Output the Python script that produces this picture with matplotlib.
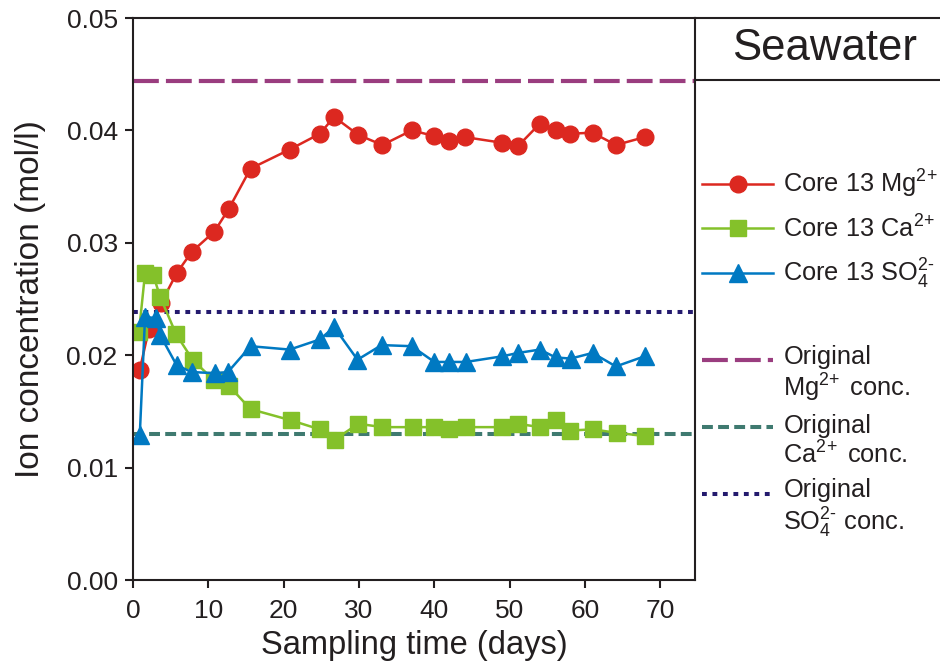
import matplotlib
matplotlib.use("Agg")
from matplotlib import pyplot as plt
from matplotlib.legend_handler import HandlerLine2D

plt.rcParams["font.family"] = ["Liberation Sans", "DejaVu Sans"]
plt.rcParams["mathtext.fontset"] = "custom"
plt.rcParams["mathtext.rm"] = "Liberation Sans"
plt.rcParams["mathtext.it"] = "Liberation Sans:italic"
plt.rcParams["mathtext.bf"] = "Liberation Sans:bold"

# data
days_mg = [0.9, 2.1, 3.7, 5.8, 7.8, 10.8, 12.7, 15.6, 20.8, 24.8, 26.7, 29.9, 33.1,
           37.0, 40.0, 42.0, 44.1, 49.0, 51.1, 54.0, 56.1, 58.0, 61.0, 64.1, 67.9]
mg = [0.0187, 0.0223, 0.0246, 0.0273, 0.0292, 0.0310, 0.0330, 0.0366, 0.0383, 0.0397,
      0.0412, 0.0396, 0.0387, 0.0400, 0.0395, 0.0391, 0.0394, 0.0389, 0.0386, 0.0406,
      0.0400, 0.0397, 0.0398, 0.0387, 0.0394]

days_ca = [0.8, 1.6, 2.7, 3.6, 5.7, 7.9, 10.7, 12.7, 15.6, 21.0, 24.8, 26.8, 29.9,
           33.1, 37.2, 39.9, 42.0, 44.2, 49.0, 51.1, 54.0, 56.2, 58.0, 61.0, 64.2, 68.0]
ca = [0.0221, 0.0273, 0.0271, 0.0252, 0.0219, 0.0196, 0.0178, 0.0173, 0.0152, 0.0142,
      0.0134, 0.0125, 0.0139, 0.0136, 0.0136, 0.0136, 0.0134, 0.0136, 0.0136, 0.0139,
      0.0136, 0.0142, 0.0133, 0.0134, 0.0131, 0.0128]

days_so4 = [0.9, 1.6, 3.1, 3.6, 5.8, 7.8, 10.9, 12.6, 15.6, 20.8, 24.8, 26.7, 29.8,
            33.0, 37.0, 40.0, 42.0, 44.2, 49.0, 51.1, 54.0, 56.1, 58.1, 61.0, 64.1, 67.9]
so4 = [0.0129, 0.0234, 0.0233, 0.0218, 0.0191, 0.0185, 0.0184, 0.0185, 0.0208, 0.0205,
       0.0214, 0.0225, 0.0196, 0.0209, 0.0208, 0.0194, 0.0194, 0.0194, 0.0199, 0.0202,
       0.0205, 0.0198, 0.0197, 0.0202, 0.0190, 0.0199]

# original seawater concentrations
orig_mg = 0.0444
orig_ca = 0.0130
orig_so4 = 0.0238

x_ticks = [0, 10, 20, 30, 40, 50, 60, 70]
y_ticks = [0.00, 0.01, 0.02, 0.03, 0.04, 0.05]


# legend handle lifted to the first line of a two-line label
class FirstLineHandler(HandlerLine2D):
    def __init__(self, dy, **kw):
        super().__init__(**kw)
        self.dy = dy

    def create_artists(self, legend, orig_handle, xdescent, ydescent,
                       width, height, fontsize, trans):
        arts = super().create_artists(legend, orig_handle, xdescent, ydescent,
                                      width, height, fontsize, trans)
        for a in arts:
            a.set_ydata([y + self.dy for y in a.get_ydata()])
        return arts


txt = "#231f20"
fig = plt.figure(figsize=(9.4, 6.66), dpi=100)
ax = fig.add_axes([133 / 940, 86 / 666, 562 / 940, 562 / 666])

l_omg, = ax.plot([0, 75], [orig_mg, orig_mg], color="#9a3d7f", lw=3,
                 ls=(0, (6.2, 1.7)), label="Original\nMg$^{2\\!+}$ conc.")
l_oca, = ax.plot([0, 75], [orig_ca, orig_ca], color="#3f7a70", lw=2.9,
                 ls=(0, (2.7, 1.3)), label="Original\nCa$^{2\\!+}$ conc.")
l_oso, = ax.plot([0, 75], [orig_so4, orig_so4], color="#241a6e", lw=2.9,
                 ls=(0, (1.2, 1.4)), label="Original\nSO$_4^{2\\text{-}}$ conc.")

l_mg, = ax.plot(days_mg, mg, color="#dc2820", lw=1.8, marker="o", ms=12,
                label="Core 13 Mg$^{2\\!+}$")
l_ca, = ax.plot(days_ca, ca, color="#84c12a", lw=1.8, marker="s", ms=11.5,
                label="Core 13 Ca$^{2\\!+}$")
l_so, = ax.plot(days_so4, so4, color="#0079c2", lw=1.8, marker="^", ms=13,
                label="Core 13 SO$_4^{2\\text{-}}$")

ax.set_xlim(0, 74.6)
ax.set_ylim(0, 0.05)
ax.set_xticks(x_ticks)
ax.set_yticks(y_ticks)
ax.set_yticklabels([f"{v:.2f}" for v in y_ticks])
ax.tick_params(direction="out", length=6, width=1.5, labelsize=19, colors=txt, pad=5)
ax.tick_params(axis="x", pad=8)
for s in ax.spines.values():
    s.set_linewidth(1.5)
    s.set_color(txt)
ax.set_xlabel("Sampling time (days)", fontsize=23.5, color=txt, labelpad=5)
ax.set_ylabel("Ion concentration (mol/l)", fontsize=24, color=txt, labelpad=15)

# right side panel
pan = fig.add_axes([695 / 940, 86 / 666, 0.3, 562 / 666])
pan.set_xlim(0, 1)
pan.set_ylim(0, 1)
pan.axis("off")
top = 1.0
sep = 1 - 62 / 562
pan.plot([0, 1], [top, top], color=txt, lw=1.5, clip_on=False)
pan.plot([0, 1], [sep, sep], color=txt, lw=1.5, clip_on=False)
pan.text(130 / 282, (top + sep) / 2, "Seawater", fontsize=31.5, color=txt,
         ha="center", va="center")

leg1 = fig.legend(handles=[l_mg, l_ca, l_so], loc="upper left",
                  bbox_to_anchor=(702 / 940, 1 - 168 / 666), frameon=False,
                  fontsize=18.3, handlelength=2.8, handletextpad=0.4,
                  labelspacing=0.58, borderaxespad=0, borderpad=0)
for t in leg1.get_texts():
    t.set_color(txt)

hm = {h: FirstLineHandler(11) for h in [l_omg, l_oca, l_oso]}
leg2 = fig.legend(handles=[l_omg, l_oca, l_oso], loc="upper left",
                  bbox_to_anchor=(702 / 940, 1 - 345 / 666), frameon=False,
                  fontsize=18.3, handlelength=2.8, handletextpad=0.4,
                  labelspacing=0.4, borderaxespad=0, borderpad=0, handler_map=hm)
for t in leg2.get_texts():
    t.set_color(txt)
    t.set_linespacing(1.12)

fig.savefig("out.png", dpi=100)
